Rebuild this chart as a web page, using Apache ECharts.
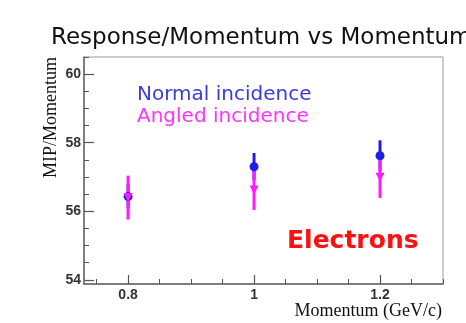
<!DOCTYPE html>
<html><head><meta charset="utf-8">
<script src="https://cdn.jsdelivr.net/npm/echarts@6/dist/echarts.min.js"></script>
<style>html,body{margin:0;padding:0;background:#fff}#c{width:466px;height:323px}</style>
</head><body><div id="c"></div>
<script>
const momentum = [0.8, 1.0, 1.2];
const normalVal = [56.43, 57.30, 57.62];
const normalErr = [0.35, 0.40, 0.45];
const angledVal = [56.40, 56.62, 56.99];
const angledErr = [0.64, 0.58, 0.60];
const xMajor = [0.8, 1.0, 1.2];
const xMinor = [0.75, 0.85, 0.9, 0.95, 1.05, 1.1, 1.15, 1.25, 1.3];
const yMajor = [54, 56, 58, 60];
const yMinor = [54.5, 55, 55.5, 56.5, 57, 57.5, 58.5, 59, 59.5, 60.5];

const BLUE = '#1f1fe8', MAG = '#ff1aff';
const chart = echarts.init(document.getElementById('c'), null, {renderer: 'canvas'});
function errSeries(vals, errs, color, z) {
  return {
    type: 'custom', z: z, xAxisIndex: 0, yAxisIndex: 0,
    data: momentum.map((m, i) => [m, vals[i] - errs[i], vals[i] + errs[i]]),
    renderItem: (params, api) => {
      const a = api.coord([api.value(0), api.value(1)]);
      const b = api.coord([api.value(0), api.value(2)]);
      return {type: 'line', shape: {x1: a[0], y1: a[1], x2: b[0], y2: b[1]},
        style: {stroke: color, lineWidth: 3}};
    }
  };
}
const xBase = {type: 'value', min: 0.73, max: 1.3, gridIndex: 0, position: 'bottom', splitLine: {show: false}};
const yBase = {type: 'value', min: 53.88, max: 60.5, gridIndex: 0, position: 'left', splitLine: {show: false}};
chart.setOption({
  animation: false,
  title: {text: 'Response/Momentum vs Momentum', left: 46, top: 22,
    textStyle: {fontFamily: 'DejaVu Sans', fontWeight: 'normal', fontSize: 23, color: '#111'}},
  grid: {left: 84, right: 23, top: 57, bottom: 39, show: true, borderColor: '#999', borderWidth: 1,
    containLabel: false, outerBoundsMode: 'none'},
  xAxis: [
    Object.assign({}, xBase, {
      axisLine: {show: true, onZero: false, lineStyle: {color: '#666', width: 1.5}},
      axisTick: {show: true, inside: true, length: 9, customValues: xMajor, lineStyle: {color: '#555', width: 1.2}},
      axisLabel: {customValues: xMajor, formatter: v => String(+v.toFixed(2)), color: '#333', margin: 4,
        fontFamily: 'Liberation Sans Narrow, Liberation Sans', fontWeight: 'bold', fontSize: 14}
    }),
    Object.assign({}, xBase, {
      axisLine: {show: false}, axisLabel: {show: false},
      axisTick: {show: true, inside: true, length: 5, customValues: xMinor, lineStyle: {color: '#555', width: 1}}
    })
  ],
  yAxis: [
    Object.assign({}, yBase, {
      axisLine: {show: true, onZero: false, lineStyle: {color: '#666', width: 1.5}},
      axisTick: {show: true, inside: true, length: 10, customValues: yMajor, lineStyle: {color: '#555', width: 1.2}},
      axisLabel: {customValues: yMajor, color: '#333', margin: 3,
        fontFamily: 'Liberation Sans Narrow, Liberation Sans', fontWeight: 'bold', fontSize: 14},
      name: 'MIP/Momentum', nameLocation: 'end', nameRotate: 90, nameGap: 0,
      nameTextStyle: {fontFamily: 'Liberation Serif', fontSize: 18, color: '#111',
        align: 'right', verticalAlign: 'bottom', padding: [0, 0, 24, 0]}
    }),
    Object.assign({}, yBase, {
      axisLine: {show: false}, axisLabel: {show: false},
      axisTick: {show: true, inside: true, length: 5, customValues: yMinor, lineStyle: {color: '#555', width: 1}}
    })
  ],
  graphic: [
    {type: 'text', left: 137, top: 85, style: {text: 'Normal incidence', fill: '#3b3bdc',
      font: '20px "DejaVu Sans"'}},
    {type: 'text', left: 137, top: 107, style: {text: 'Angled incidence', fill: '#ff33ff',
      font: '20px "DejaVu Sans"'}},
    {type: 'text', left: 287, top: 229, style: {text: 'Electrons', fill: '#ff1010',
      font: 'bold 25px "DejaVu Sans"'}},
    {type: 'text', right: 24, top: 302, style: {text: 'Momentum (GeV/c)', fill: '#111',
      font: '18px "Liberation Serif"'}}
  ],
  series: [
    errSeries(normalVal, normalErr, BLUE, 2),
    errSeries(angledVal, angledErr, MAG, 3),
    {type: 'scatter', z: 4, symbol: 'circle', symbolSize: 9, itemStyle: {color: BLUE, opacity: 1},
      data: momentum.map((m, i) => [m, normalVal[i]])},
    {type: 'scatter', z: 5, symbol: 'triangle', symbolRotate: 180, symbolSize: 9, itemStyle: {color: MAG, opacity: 1},
      data: momentum.map((m, i) => [m, angledVal[i]])}
  ]
});
</script></body></html>
